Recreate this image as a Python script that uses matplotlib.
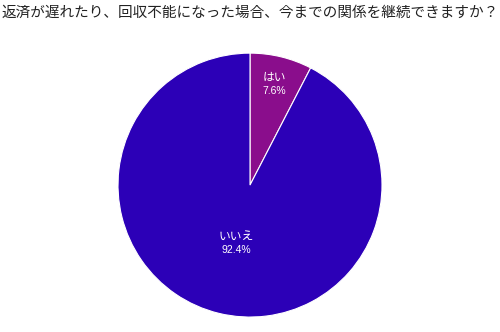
import numpy as np
import matplotlib
matplotlib.use("Agg")
import matplotlib.pyplot as plt

plt.rcParams['font.family'] = ['Noto Sans CJK JP', 'DejaVu Sans']

title = "返済が遅れたり、回収不能になった場合、今までの関係を継続できますか？"
categories = ["はい", "いいえ"]
values = [7.6, 92.4]
colors = ["#8a0d8c", "#2c00b7"]
label_dist = [0.79, 0.45]

fig = plt.figure(figsize=(5.0, 3.32), dpi=100)
fig.text(0.004, 0.962, title, fontsize=10.5, ha='left', va='center', color='#222222')

ax = fig.add_axes([0.236, 0.045, 0.528, 0.795])
wedges, _ = ax.pie(values, colors=colors, startangle=90, counterclock=False,
                   wedgeprops=dict(edgecolor='white', linewidth=0.8))
for w, cat, v, d in zip(wedges, categories, values, label_dist):
    ang = np.deg2rad((w.theta1 + w.theta2) / 2)
    x, y = d * np.cos(ang), d * np.sin(ang)
    ax.text(x, y + 0.045, cat, ha='center', va='center', color='white', fontsize=8.5)
    ax.text(x, y - 0.055, f"{v}%", ha='center', va='center', color='white', fontsize=7.5,
            family=['Liberation Sans', 'DejaVu Sans'])
ax.set_xlim(-1, 1)
ax.set_ylim(-1, 1)
ax.set_aspect('auto')
ax.axis('off')

fig.savefig("out.png", dpi=100)
